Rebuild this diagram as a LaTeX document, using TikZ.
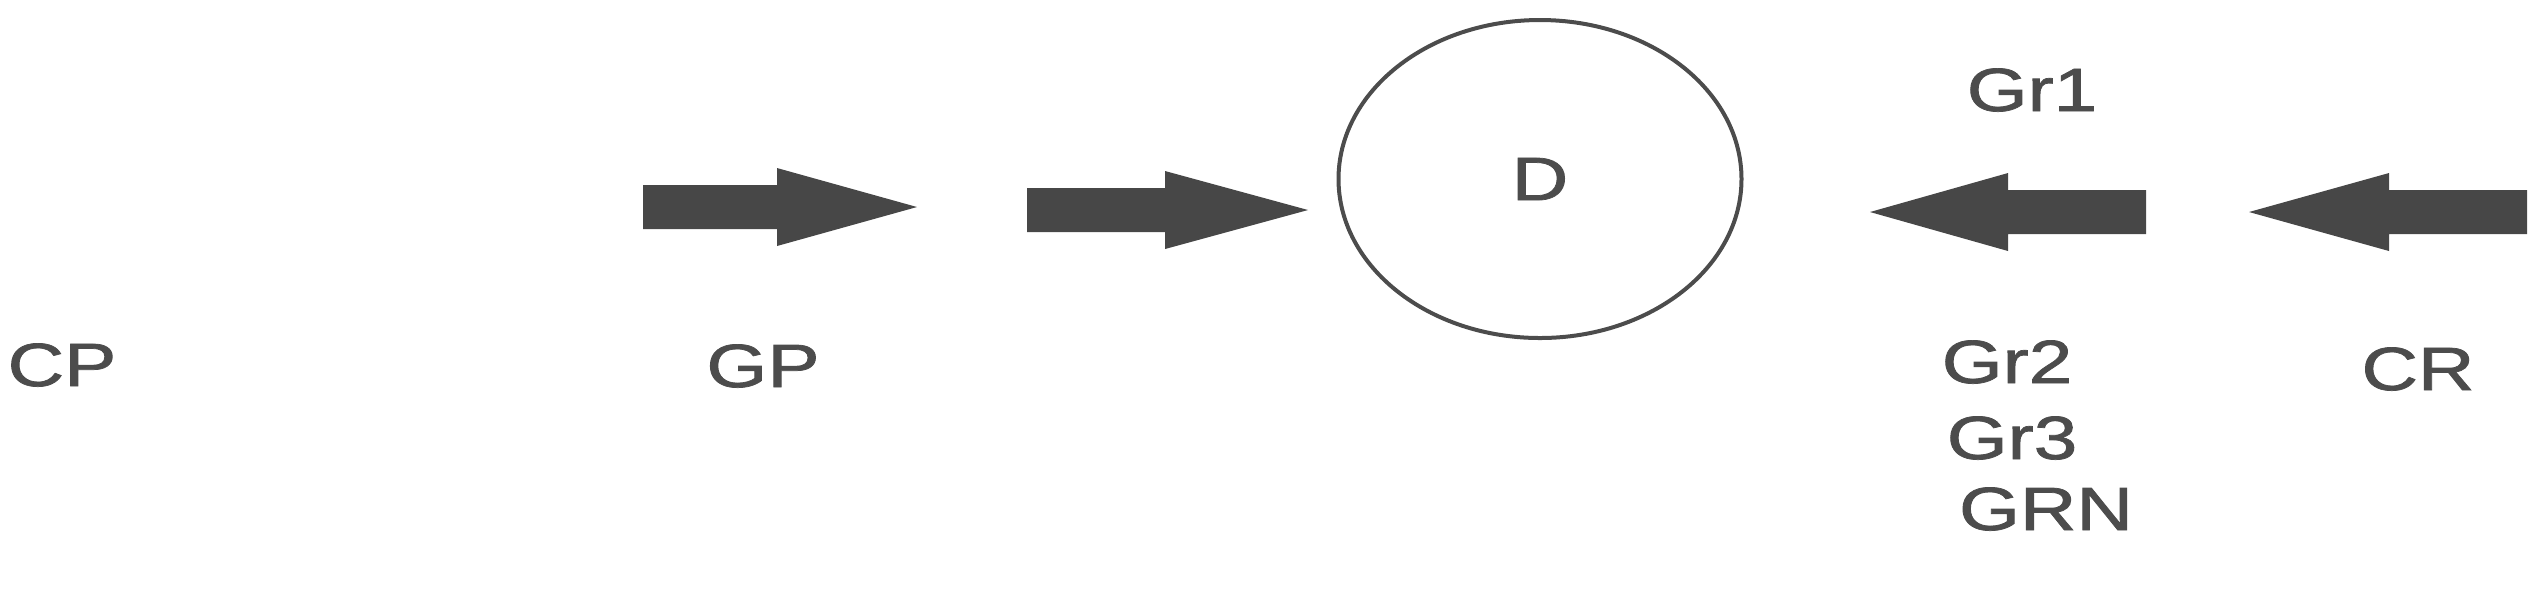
\documentclass[tikz,border=0pt]{standalone}
\usepackage{fontspec}
\setmainfont{Liberation Sans}
\newfontfamily\labelfont[FakeBold=1.2]{Liberation Sans}
\usetikzlibrary{shapes.geometric}
\definecolor{labelgray}{HTML}{4C4C4C}
\definecolor{arrowgray}{HTML}{474747}
\newcommand{\wide}[1]{\scalebox{1.28}[1]{#1}}
\begin{document}
\begin{tikzpicture}
        [x=0.1mm,y=-0.1mm,
        labeltext/.style={text=labelgray,inner sep=0pt,font=\labelfont\fontsize{17.4pt}{20pt}\selectfont},%
        blockarrow/.style={fill=arrowgray,draw=none}]
        \path[use as bounding box] (0,0) rectangle (2538,610);
        %% the circle D
        \node (d) at (1540,179) [ellipse,draw=labelgray,line width=0.4mm,
          minimum width=40.3mm,minimum height=31.8mm,labeltext] {\wide{D}};
        %% labels
        \foreach \nodename/\x/\y/\txt in { cp/62/365/CP, gp/763/366/GP,
          gra/2032/90/Gr1, grb/2007/362/Gr2, grc/2012/438/Gr3,
          grn/2046/509/GRN, cr/2418/369/CR}
        {
          \node (\nodename) at (\x,\y) [labeltext] {\wide{\txt}};
        }
        %% block arrows: tail / head base / tip / centre line
        \foreach \tail/\base/\tip/\y in {643/777/917/207, 1027/1165/1308/210,
          2146/2008/1870/212, 2527/2389/2249/212}
        {
          \fill[blockarrow] (\tail,\y-22) -- (\base,\y-22) -- (\base,\y-39)
            -- (\tip,\y) -- (\base,\y+39) -- (\base,\y+22) -- (\tail,\y+22) -- cycle;
        }
      \end{tikzpicture}
\end{document}
